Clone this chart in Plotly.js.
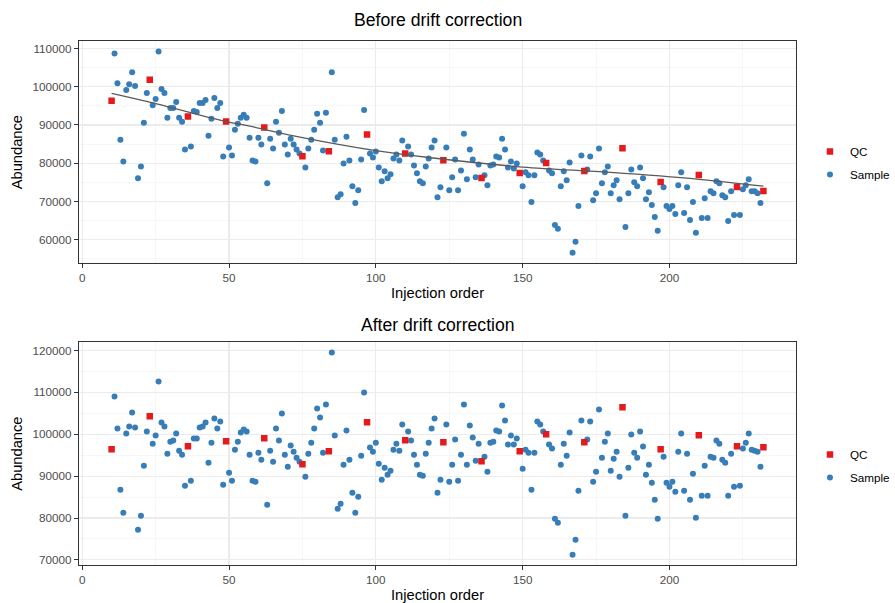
<!DOCTYPE html>
<html>
<head>
<meta charset="utf-8">
<script src="https://cdn.plot.ly/plotly-3.0.1.min.js"></script>
<style>html,body{margin:0;padding:0;background:#fff;}#chart{width:895px;height:603px;}</style>
</head>
<body>
<div id="chart"></div>
<script>
// ---- data ----
const sampleOrder = [
 11,12,13,14,15,16,17,18,19,20,21,22,
 24,25,26,27,28,29,30,31,32,33,34,35,
 37,38,39,40,41,42,43,44,45,46,47,48,
 50,51,52,53,54,55,56,57,58,59,60,61,
 63,64,65,66,67,68,69,70,71,72,73,74,
 76,77,78,79,80,81,82,83,
 85,86,87,88,89,90,91,92,93,94,95,96,
 98,99,100,101,102,103,104,105,106,107,108,109,
 111,112,113,114,115,116,117,118,119,120,121,122,
 124,125,126,127,128,129,130,131,132,133,134,135,
 137,138,139,140,141,142,143,144,145,146,147,148,
 150,151,152,153,154,155,156,157,
 159,160,161,162,163,164,165,166,167,168,169,170,
 172,173,174,175,176,177,178,179,180,181,182,183,
 185,186,187,188,189,190,191,192,193,194,195,196,
 198,199,200,201,202,203,204,205,206,207,208,209,
 211,212,213,214,215,216,217,218,219,220,221,222,
 224,225,226,227,228,229,230,231
];
const sampleBefore = [
 108700,100930,86170,80470,99120,100670,103780,100160,76060,79170,90570,98340,
 95150,96790,109220,99380,98340,91870,94460,94460,96010,91870,90830,83580,
 84350,93680,93420,95750,95750,96530,87200,91610,97050,94460,95750,81760,
 84090,82020,88760,90310,91870,92640,91870,86680,80730,80470,86680,84870,
 74770,86420,83830,90830,87980,93680,84870,82280,86420,84870,83580,82540,
 78910,83830,86170,88760,92900,90570,83320,93160,
 103780,86170,71140,71920,79950,86940,80730,73990,69590,72950,80990,93940,
 82540,81500,83060,78910,75280,77880,76060,77100,81240,82280,80730,85910,
 84350,82280,79430,77360,75280,74770,79170,81240,84090,85910,71140,73730,
 84090,72950,76320,80990,72950,78130,87720,75800,83580,80990,76320,79690,
 76840,74250,79430,79690,81760,81500,86420,83580,78910,80470,78650,79950,
 73990,77620,76840,69850,76840,82800,82280,80730,
 78130,77360,63890,62850,73990,77880,75540,80210,56630,59480,68810,82020,
 78390,81760,70360,72180,83830,74770,77620,79170,72180,74250,75540,70620,
 63370,72180,78390,75020,73990,78910,76060,70620,72440,69070,65960,62330,
 73730,68810,68030,68810,66740,74250,77620,67000,73730,65180,69850,61810,
 65700,70880,65700,72690,72180,75280,74770,71660,71140,64920,72690,66480,
 66480,73210,74250,75800,72690,72690,72180,69590
];
const sampleAfter = [
 109000,101340,86750,81250,100150,101820,105170,101580,77180,80530,92490,100620,
 97750,99670,112590,102780,101820,95360,98230,98470,100150,96080,95120,87710,
 88900,98950,98950,101580,101820,102780,93210,97990,103730,101340,103020,87950,
 90820,88900,96320,98230,100390,101100,100620,95120,88900,88670,95600,93930,
 83160,96080,93450,101340,98470,104930,95120,92250,97280,95840,94410,93450,
 89860,95360,97990,101340,106130,103970,95600,107080,
 119520,99670,82210,83400,92730,100860,93930,86030,81250,85080,94880,109950,
 96800,95840,97990,92970,89140,92010,90340,91300,96320,97750,96080,102300,
 100620,98470,95120,92730,90340,90100,95360,97990,101340,103730,86030,89140,
 102300,88670,92730,98710,88900,95120,107080,92730,102060,99190,93690,97750,
 94640,91060,97990,98230,100860,100620,106840,103260,97520,99670,97520,98950,
 91770,96320,95600,86750,95600,103020,102300,100620,
 97520,96560,79810,78860,92730,97750,94880,100390,71200,74790,86510,103260,
 98710,103020,88670,91060,105890,94410,98230,100150,91300,94170,95840,89860,
 80530,92010,99910,95600,94410,100620,97040,90340,92730,88430,84360,79810,
 94640,88430,87470,88670,86270,95840,100150,86510,95360,84360,90580,80050,
 85320,92490,85320,94640,94410,98470,97750,93930,93210,85320,95360,87470,
 87710,96560,97990,100150,96320,96080,95840,92250
];
const qcOrder  = [10,23,36,49,62,75,84,97,110,123,136,149,158,171,184,197,210,223,232];
const qcBefore = [96350,101790,92210,90910,89360,81840,83140,87540,82540,80810,76150,77440,80030,77950,83920,75100,76920,73810,72770];
const qcAfter  = [96390,104290,97110,98310,99030,92810,95920,102850,98550,98060,93520,95920,99980,98060,106440,96390,99740,97110,96870];
const trendOrder = [10,25,49,57,75,100,118,150,180,210,232];
const trendValue = [98260,95600,90900,89700,86700,83300,81500,79000,77600,75800,74000];
const xTicks = [0,50,100,150,200];
const yTicksTop = [60000,70000,80000,90000,100000,110000];
const yTicksBottom = [70000,80000,90000,100000,110000,120000];

// ---- styles ----
const RED = '#E41A1C', BLUE = '#377EB8';
const FONT = 'Liberation Sans, Arial, Helvetica, sans-serif';

const traces = [
  {x: sampleOrder, y: sampleBefore, type:'scatter', mode:'markers', name:'Sample',
   marker:{color:BLUE, size:6, symbol:'circle'}, xaxis:'x', yaxis:'y', legend:'legend', legendgroup:'s', legendrank:2},
  {x: qcOrder, y: qcBefore, type:'scatter', mode:'markers', name:'QC',
   marker:{color:RED, size:6.5, symbol:'square'}, xaxis:'x', yaxis:'y', legend:'legend', legendgroup:'q', legendrank:1},
  {x: trendOrder, y: trendValue, type:'scatter', mode:'lines', name:'trend', showlegend:false,
   line:{color:'#5a5a5a', width:1.3, shape:'spline', smoothing:1}, xaxis:'x', yaxis:'y', hoverinfo:'skip'},
  {x: sampleOrder, y: sampleAfter, type:'scatter', mode:'markers', name:'Sample',
   marker:{color:BLUE, size:6, symbol:'circle'}, xaxis:'x2', yaxis:'y2', legend:'legend2', legendgroup:'s2', legendrank:2},
  {x: qcOrder, y: qcAfter, type:'scatter', mode:'markers', name:'QC',
   marker:{color:RED, size:6.5, symbol:'square'}, xaxis:'x2', yaxis:'y2', legend:'legend2', legendgroup:'q2', legendrank:1}
];

function xAxis(anchor){
  return {
    domain:[0,1], anchor:anchor, range:[-1.1,243.1], tickvals:xTicks, ticktext:xTicks.map(String),
    showgrid:true, gridcolor:'#EBEBEB', gridwidth:1.1, zeroline:false,
    minor:{dtick:25, tick0:0, showgrid:true, gridcolor:'#F2F2F2', gridwidth:0.6},
    showline:true, mirror:true, linecolor:'#333333', linewidth:1.1,
    ticks:'outside', ticklen:4, tickcolor:'#333333', tickwidth:1,
    tickfont:{family:FONT, size:11.7, color:'#4D4D4D'},
    title:{text:'Injection order', font:{family:FONT, size:14.7, color:'#000'}, standoff:4}
  };
}
function yAxis(anchor, domain, range, ticks, minorStart){
  return {
    domain:domain, anchor:anchor, range:range, tickvals:ticks, ticktext:ticks.map(String),
    showgrid:true, gridcolor:'#EBEBEB', gridwidth:1.1, zeroline:false,
    minor:{dtick:10000, tick0:minorStart, showgrid:true, gridcolor:'#F2F2F2', gridwidth:0.6},
    showline:true, mirror:true, linecolor:'#333333', linewidth:1.1,
    ticks:'outside', ticklen:4, tickcolor:'#333333', tickwidth:1,
    tickfont:{family:FONT, size:11.7, color:'#4D4D4D'},
    title:{text:'Abundance', font:{family:FONT, size:14.7, color:'#000'}, standoff:6}
  };
}

const legendCommon = {
  xref:'container', yref:'container',
  xanchor:'left', yanchor:'middle', bgcolor:'rgba(0,0,0,0)', borderwidth:0,
  font:{family:FONT, size:11.7, color:'#000'}, traceorder:'grouped', tracegroupgap:4, itemsizing:'trace'
};

const layout = {
  width:895, height:603,
  margin:{l:79, r:99, t:41, b:38, pad:0, autoexpand:false},
  paper_bgcolor:'#FFFFFF', plot_bgcolor:'#FFFFFF',
  showlegend:true,
  xaxis: xAxis('y'),
  yaxis: yAxis('x', [0.5758,1], [53860,111940], yTicksTop, 55000),
  xaxis2: xAxis('y2'),
  yaxis2: yAxis('x2', [0,0.425], [68780,121940], yTicksBottom, 65000),
  legend: Object.assign({x:0.905, y:0.7297}, legendCommon),
  legend2: Object.assign({x:0.905, y:0.2272}, legendCommon),
  annotations:[
    {text:'Before drift correction', xref:'paper', yref:'paper', x:0.5, y:1.040, xanchor:'center', yanchor:'middle',
     showarrow:false, font:{family:FONT, size:17.6, color:'#000'}},
    {text:'After drift correction', xref:'paper', yref:'paper', x:0.5, y:0.458, xanchor:'center', yanchor:'middle',
     showarrow:false, font:{family:FONT, size:17.6, color:'#000'}}
  ]
};

Plotly.newPlot('chart', traces, layout, {displayModeBar:false, staticPlot:true});
</script>
</body>
</html>
